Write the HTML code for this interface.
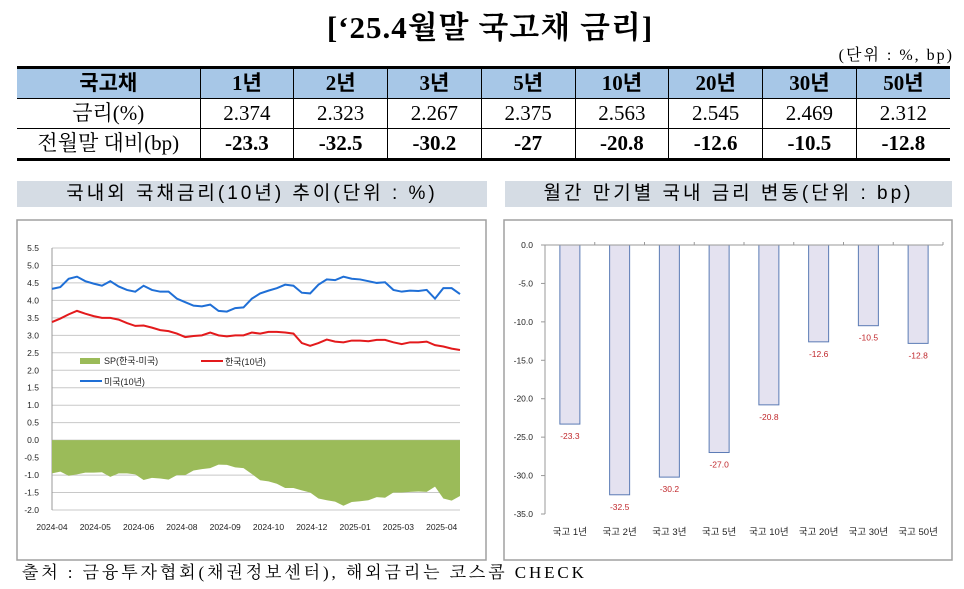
<!DOCTYPE html>
<html><head><meta charset="utf-8">
<style>
body{margin:0;background:#fff;width:964px;height:589px;overflow:hidden;position:relative;font-family:"Liberation Serif","Noto Serif CJK SC",serif}
.abs{position:absolute}
table{border-collapse:collapse;position:absolute;left:17px;top:66px;width:933px;table-layout:fixed}
td{text-align:center;font-size:21px;height:29px;padding:0;border-left:1px solid #000;line-height:27px}
td:first-child{border-left:none}
tr.h td{background:#a7c7e7;font-weight:bold;border-top:3px solid #000;border-bottom:1px solid #000;font-family:"Liberation Serif","Noto Sans CJK KR",serif}
tr.r2 td{border-bottom:1px solid #000}
tr.r3 td{font-weight:bold;border-bottom:3px solid #000}
.sec{position:absolute;top:181px;height:26px;background:#d5dce4;font-family:"Liberation Sans","Noto Sans CJK KR",sans-serif;font-size:19px;letter-spacing:3px;text-align:center;line-height:26px}
svg text{font-family:"Liberation Sans","Noto Sans CJK KR",sans-serif}
</style></head><body>
<div class="abs" style="left:0;width:980px;top:2px;text-align:center;font-size:31px;font-weight:bold;letter-spacing:1px;font-family:'Liberation Serif','Noto Serif CJK SC',serif">[‘25.4월말 국고채 금리]</div>
<div class="abs" style="right:10px;top:42px;font-size:16px;letter-spacing:2px">(단위 : %, bp)</div>
<table>
<colgroup><col style="width:183px"><col><col><col><col><col><col><col><col></colgroup>
<tr class="h"><td>국고채</td><td>1년</td><td>2년</td><td>3년</td><td>5년</td><td>10년</td><td>20년</td><td>30년</td><td>50년</td></tr>
<tr class="r2"><td>금리(%)</td><td>2.374</td><td>2.323</td><td>2.267</td><td>2.375</td><td>2.563</td><td>2.545</td><td>2.469</td><td>2.312</td></tr>
<tr class="r3"><td style="font-weight:normal">전월말 대비(bp)</td><td>-23.3</td><td>-32.5</td><td>-30.2</td><td>-27</td><td>-20.8</td><td>-12.6</td><td>-10.5</td><td>-12.8</td></tr>
</table>
<div class="sec" style="left:17px;width:470px">국내외 국채금리(10년) 추이(단위 : %)</div>
<div class="sec" style="left:505px;width:447px">월간 만기별 국내 금리 변동(단위 : bp)</div>
<svg class="abs" style="left:0;top:0" width="964" height="589" id="charts">
<rect x="17" y="220" width="469" height="340" fill="#fff" stroke="#a0a0a0" stroke-width="1.5"/>
<rect x="504" y="220" width="448" height="340" fill="#fff" stroke="#a0a0a0" stroke-width="1.5"/>
<g id="lc"></g><g id="bc"></g>
</svg>
<div class="abs" style="left:22px;top:558px;font-size:17px;letter-spacing:2.9px">출처 : 금융투자협회(채권정보센터), 해외금리는 코스콤 CHECK</div>
<script>
const usYield=[4.33,4.38,4.62,4.68,4.55,4.48,4.42,4.55,4.4,4.3,4.25,4.42,4.3,4.25,4.25,4.05,3.95,3.85,3.83,3.88,3.7,3.68,3.78,3.8,4.05,4.2,4.28,4.35,4.45,4.42,4.22,4.2,4.45,4.6,4.58,4.68,4.62,4.6,4.55,4.5,4.52,4.3,4.25,4.28,4.27,4.3,4.05,4.35,4.35,4.18];
const krYield=[3.38,3.48,3.6,3.7,3.62,3.55,3.5,3.5,3.45,3.35,3.27,3.28,3.22,3.15,3.12,3.05,2.95,2.98,3.0,3.08,3.0,2.97,3.0,3.0,3.08,3.05,3.1,3.1,3.08,3.05,2.78,2.7,2.78,2.88,2.82,2.8,2.85,2.85,2.83,2.87,2.87,2.8,2.75,2.8,2.8,2.82,2.72,2.68,2.62,2.58];
const lineTicks=[5.5,5.0,4.5,4.0,3.5,3.0,2.5,2.0,1.5,1.0,0.5,0.0,-0.5,-1.0,-1.5,-2.0];
const dateLabels=["2024-04","2024-05","2024-06","2024-08","2024-09","2024-10","2024-12","2025-01","2025-03","2025-04"];
const barCats=["국고 1년","국고 2년","국고 3년","국고 5년","국고 10년","국고 20년","국고 30년","국고 50년"];
const barVals=[-23.3,-32.5,-30.2,-27.0,-20.8,-12.6,-10.5,-12.8];
const barTicks=[0,-5,-10,-15,-20,-25,-30,-35];
const NS="http://www.w3.org/2000/svg";
function mk(p,t,a){const e=document.createElementNS(NS,t);for(const k in a)e.setAttribute(k,a[k]);p.appendChild(e);return e;}
const lc=document.getElementById('lc');
const L={x0:52,x1:460,y0:248,y1:510,vmax:5.5,vmin:-2};
const ly=v=>L.y0+(L.vmax-v)/(L.vmax-L.vmin)*(L.y1-L.y0);
const lx=i=>L.x0+i/(usYield.length-1)*(L.x1-L.x0);
lineTicks.forEach(t=>{
  const g=mk(lc,'line',{x1:L.x0,x2:L.x1,y1:ly(t),y2:ly(t),stroke:'#c8c8c8','stroke-width':1});
  
  
  const tx=mk(lc,'text',{x:L.x0-13,y:ly(t)+3,'font-size':8.5,'text-anchor':'end',fill:'#222'});
  tx.textContent=t.toFixed(1);
  
  
});
mk(lc,'line',{x1:L.x0,x2:L.x0,y1:L.y0,y2:L.y1,stroke:'#999'});
let sp='M'+lx(0)+','+ly(0);
krYield.forEach((v,i)=>{sp+=' L'+lx(i)+','+ly(v-usYield[i]);});
sp+=' L'+lx(krYield.length-1)+','+ly(0)+' Z';
const area=mk(lc,'path',{d:sp,fill:'#9bbb59'});


const kp=mk(lc,'path',{d:krYield.map((v,i)=>(i?'L':'M')+lx(i)+','+ly(v)).join(' '),fill:'none',stroke:'#e31a1c','stroke-width':2});


const up=mk(lc,'path',{d:usYield.map((v,i)=>(i?'L':'M')+lx(i)+','+ly(v)).join(' '),fill:'none',stroke:'#1f6fd6','stroke-width':2});


dateLabels.forEach((d,i)=>{
  const tx=mk(lc,'text',{x:L.x0+i*43.3,y:530,'font-size':8.5,'text-anchor':'middle',fill:'#222'});
  tx.textContent=d;
  
  
});
[[80,358,'#9bbb59','SP(한국-미국)',true],[201,361,'#e31a1c','한국(10년)',false],[80,381,'#1f6fd6','미국(10년)',false]].forEach(l=>{
  if(l[4])mk(lc,'rect',{x:l[0],y:l[1],width:20,height:6,fill:l[2]});
  else mk(lc,'line',{x1:l[0],x2:l[0]+22,y1:l[1],y2:l[1],stroke:l[2],'stroke-width':2});
  const tx=mk(lc,'text',{x:l[0]+24,y:(l[4]?l[1]+6:l[1]+4),'font-size':9,fill:'#222'});
  tx.textContent=l[3];
  
  
});
const bc=document.getElementById('bc');
const B={x0:545,x1:943,y0:245,y1:514,vmax:0,vmin:-35};
const by=v=>B.y0+(B.vmax-v)/(B.vmax-B.vmin)*(B.y1-B.y0);
const bw=(B.x1-B.x0)/barCats.length;
barTicks.forEach(t=>{
  mk(bc,'line',{x1:B.x0-4,x2:B.x0,y1:by(t),y2:by(t),stroke:'#999'});
  const tx=mk(bc,'text',{x:B.x0-12,y:by(t)+3,'font-size':8.5,'text-anchor':'end',fill:'#222'});
  tx.textContent=t.toFixed(1);
  
  
});
mk(bc,'line',{x1:B.x0,x2:B.x0,y1:B.y0,y2:B.y1,stroke:'#999'});
barCats.forEach((c,i)=>{
  const cx=B.x0+bw*(i+0.5),v=barVals[i];
  const r=mk(bc,'rect',{x:cx-10,y:by(0),width:20,height:by(v)-by(0),fill:'#e4e2f0',stroke:'#5b7bb5','stroke-width':1});
  
  
  const vl=mk(bc,'text',{x:cx,y:by(v)+15,'font-size':8.5,'text-anchor':'middle',fill:'#c0282c'});
  vl.textContent=v.toFixed(1);
  
  
  const cl=mk(bc,'text',{x:cx,y:535,'font-size':9.5,'text-anchor':'middle',fill:'#222'});
  cl.textContent=c;
  
  
  mk(bc,'line',{x1:B.x0+bw*(i+1),x2:B.x0+bw*(i+1),y1:B.y0-3,y2:B.y0,stroke:'#999'});
});
mk(bc,'line',{x1:B.x0,x2:B.x1,y1:B.y0,y2:B.y0,stroke:'#999'});
</script>
</body></html>
